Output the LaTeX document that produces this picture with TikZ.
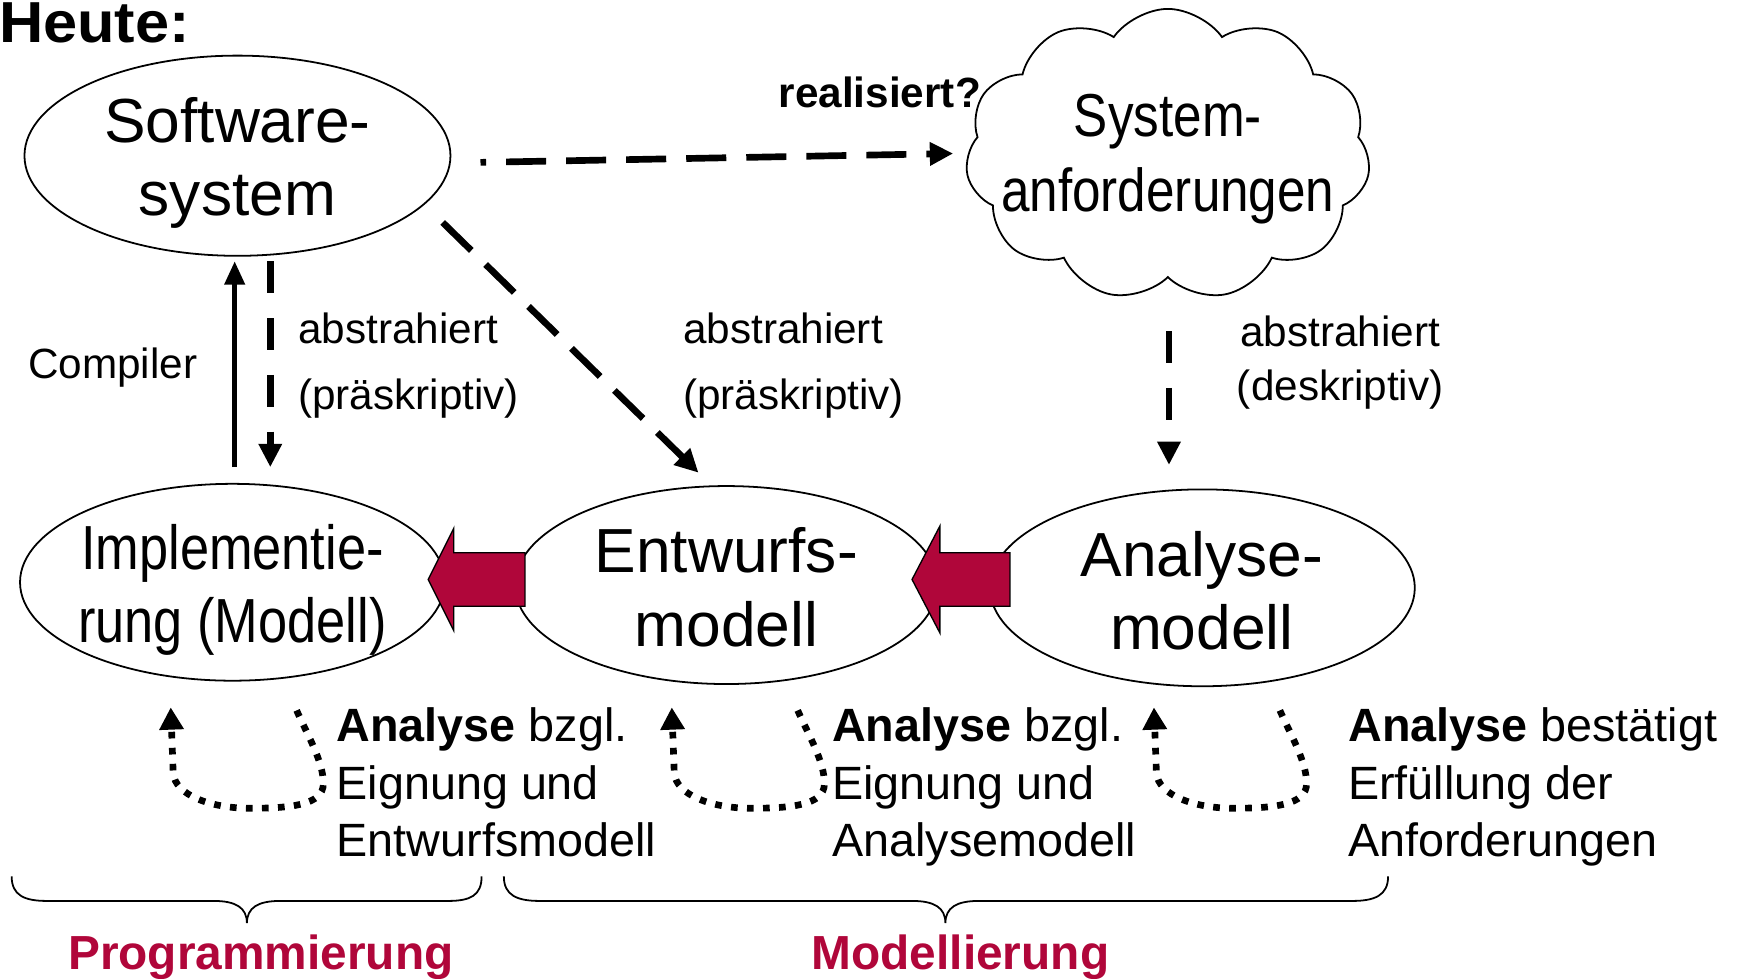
\documentclass[tikz,border=0pt]{standalone}
\usepackage{fontspec}
\setmainfont{Liberation Sans}
\usepackage{graphicx}
\usetikzlibrary{shapes.geometric,shapes.symbols,arrows.meta}
\definecolor{tured}{RGB}{176,6,58}
\newcommand{\mlines}[3][1]{\scalebox{#1}[1]{\begin{tabular}[t]{@{}c@{}}#2\\#3\end{tabular}}}
\begin{document}
\begin{tikzpicture}[x=1pt,y=-1pt,
  ell/.style={ellipse, draw, line width=1.6pt, inner sep=0pt},
  big/.style={font=\fontsize{56}{66}\selectfont, inner sep=0pt, anchor=base},
  lab/.style={font=\fontsize{38}{59}\selectfont, inner sep=0pt, anchor=base west},
  blk/.style={font=\fontsize{42}{51.5}\selectfont, inner sep=0pt, anchor=base west},
  dashA/.style={line width=6pt, dash pattern=on 36pt off 18pt, -{Triangle[length=21pt,width=20pt]}},
  dashV/.style={line width=6pt, dash pattern=on 28.5pt off 22.5pt, -{Triangle[length=21pt,width=20pt]}},
  solidA/.style={line width=4pt, -{Triangle[length=21pt,width=18pt]}},
  dotA/.style={line width=6pt, dash pattern=on 6pt off 8.4pt, -{Triangle[length=20pt,width=21pt]}},
  redarr/.style={draw=black, line width=1.2pt, fill=tured, line join=miter},
  bracestyle/.style={line width=1.6pt}
]
\useasboundingbox (0,0) rectangle (1568,880);

% shapes
\node[ell, minimum width=383pt, minimum height=180pt] (sw) at (213.5,140) {};
\node[ell, minimum width=382pt, minimum height=177pt] (impl) at (209,523.5) {};
\node[ell, minimum width=380pt, minimum height=178pt] (ent) at (653,526) {};
\node[ell, minimum width=382pt, minimum height=177pt] (ana) at (1081,528.5) {};
\node[cloud, draw, line width=1.6pt, cloud puffs=11, cloud puff arc=110, aspect=1.4,
      minimum width=364pt, minimum height=262pt, inner sep=0pt] (req) at (1050,139) {};

% red block arrows
\draw[redarr] (385,521) coordinate (rt1) -- ++(23,-46) -- ++(0,22) -- ++(64,0) -- ++(0,48) -- ++(-64,0) -- ++(0,22) -- cycle;
\draw[redarr] (820,521) coordinate (rt2) -- ++(25,-48) -- ++(0,24) -- ++(63,0) -- ++(0,48) -- ++(-63,0) -- ++(0,24) -- cycle;

% texts in shapes
\node[big] (swt) at (213.5,128) {\mlines{Software-}{system}};
\node[big, font=\fontsize{54.5}{67}\selectfont] (reqt) at (1050,123) {\mlines[0.845]{System-}{anforderungen}};
\node[big] (implt) at (209,512) {\mlines[0.84]{Implementie-}{rung (Modell)}};
\node[big] (entt) at (653,515) {\mlines{Entwurfs-}{modell}};
\node[big] (anat) at (1080.5,518) {\mlines{Analyse-}{modell}};

% title and labels
\node[font=\fontsize{52}{60}\selectfont\bfseries, anchor=base west, inner sep=0pt] (heute) at (-1,38) {\scalebox{1.06}[1]{Heute:}};
\node[font=\fontsize{38}{42}\selectfont\bfseries, anchor=base west, inner sep=0pt] (real) at (700,97) {realisiert?};
\node[font=\fontsize{38}{45}\selectfont, anchor=base west, inner sep=0pt] (comp) at (25,340) {Compiler};
\node[lab] (abs1) at (268,309) {\begin{tabular}[t]{@{}l@{}}abstrahiert\\(präskriptiv)\end{tabular}};
\node[lab] (abs2) at (614,309) {\begin{tabular}[t]{@{}l@{}}abstrahiert\\(präskriptiv)\end{tabular}};
\node[font=\fontsize{38}{48}\selectfont, anchor=base, inner sep=0pt] (abs3) at (1205,311.7) {\begin{tabular}[t]{@{}c@{}}abstrahiert\\(deskriptiv)\end{tabular}};

\node[blk] (an1) at (302.5,667) {\begin{tabular}[t]{@{}l@{}}\textbf{Analyse} bzgl.\\Eignung und\\Entwurfsmodell\end{tabular}};
\node[blk] (an2) at (748,667) {\begin{tabular}[t]{@{}l@{}}\textbf{Analyse} bzgl.\\Eignung und\\Analysemodell\end{tabular}};
\node[blk] (an3) at (1212,667) {\begin{tabular}[t]{@{}l@{}}\textbf{Analyse} bestätigt\\Erfüllung der\\Anforderungen\end{tabular}};

\node[font=\fontsize{43}{48}\selectfont\bfseries, text=tured, anchor=base, inner sep=0pt] (prog) at (234.5,872) {Programmierung};
\node[font=\fontsize{43}{48}\selectfont\bfseries, text=tured, anchor=base, inner sep=0pt] (mod) at (863.5,872) {Modellierung};

% connectors
\draw[dashA, dash phase=31pt] ([xshift=218.5pt,yshift=-6pt]sw.center) -- ([xshift=-193pt,yshift=1pt]req.center);
\draw[dashA] ([xshift=184.5pt,yshift=-60pt]sw.center) -- ([xshift=-25pt,yshift=101pt]ent.center);
\draw[solidA] ([xshift=2pt,yshift=103.5pt]impl.center) -- ([xshift=-2.5pt,yshift=-95pt]sw.center);
\draw[dashV] ([xshift=29.5pt,yshift=-95pt]sw.center) -- ([xshift=34pt,yshift=103.5pt]impl.center);
\draw[dashV] ([xshift=1pt,yshift=-158.7pt]req.center) -- ([xshift=-30pt,yshift=110.5pt]ana.center);

% dotted analysis loops
\foreach \dx/\n in {0/1, 450.5/2, 884/3}{
  \coordinate (loopS\n) at ({266.7+\dx},638.7);
  \coordinate (loopT\n) at ({153.5+\dx},636);
  \draw[dotA] (loopS\n) .. controls ({276+\dx},660) and ({291+\dx},685) .. ({290.7+\dx},704.7)
     .. controls ({290.7+\dx},724) and ({260+\dx},726.7) .. ({224.7+\dx},726.7)
     .. controls ({190+\dx},726.7) and ({157+\dx},715) .. ({155.7+\dx},694.7) -- (loopT\n);
}

% braces
\draw[bracestyle] (10.5,788) .. controls (10.5,805) and (22,810) .. (42,810) -- (192,810)
  .. controls (212,810) and (222,816) .. (222,830) .. controls (222,816) and (232,810) .. (252,810)
  -- (403,810) .. controls (423,810) and (433,805) .. (433,788);
\draw[bracestyle] (453,788) .. controls (453,805) and (465,810) .. (485,810) -- (820,810)
  .. controls (840,810) and (850,816) .. (850,830) .. controls (850,816) and (860,810) .. (880,810)
  -- (1216,810) .. controls (1236,810) and (1248,805) .. (1248,788);
\end{tikzpicture}
\end{document}
